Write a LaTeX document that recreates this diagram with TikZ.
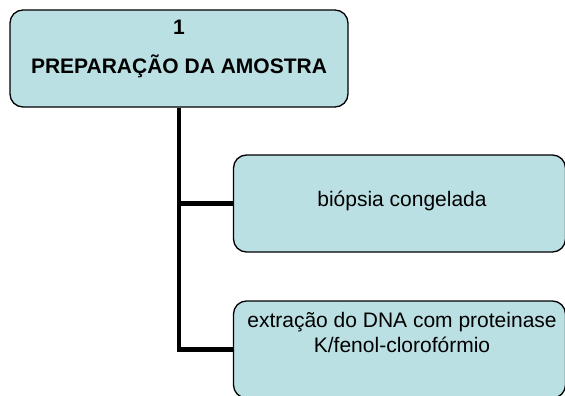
\documentclass[tikz,border=0pt]{standalone}
\usepackage{fontspec}
\setmainfont{Liberation Sans}
\usepackage{tikz}
\usetikzlibrary{positioning}

\begin{document}
\begin{tikzpicture}[x=1pt,y=-1pt,
        caixa/.style={draw=black, line width=1.3pt, fill=caixacor, rounded corners=13pt,
                minimum width=332pt, minimum height=97pt, inner sep=0pt},
        rotulo/.style={anchor=base, inner sep=0pt, font=\fontsize{21}{25}\selectfont, align=center},
        ramo/.style={line width=4.6pt, line join=miter}]
        \definecolor{caixacor}{RGB}{187,224,227}
        \useasboundingbox (0,0) rectangle (565,396);
        \clip (0,0) rectangle (565,396);
        % boxes
        \node[caixa, minimum width=338pt] (prep) at (179,58.5) {};
        \node[caixa] (biopsia) at (399.5,203.5) {};
        \node[caixa] (extracao) at (399.5,349.5) {};
        % texts
        \node[rotulo, font=\bfseries\fontsize{21}{25}\selectfont] (prep num) at (179,35) {1};
        \node[rotulo, font=\bfseries\fontsize{21}{25}\selectfont] (prep nome) at (179,74) {PREPARAÇÃO DA AMOSTRA};
        \node[rotulo] (biopsia txt) at (402,206) {biópsia congelada};
        \node[rotulo] (extracao txt) at (402,352) {extração do DNA com proteinase\\K/fenol-clorofórmio}; % base = last line
        % connectors
        \draw[ramo] (prep.south) |- (extracao.west);
        \draw[ramo] (prep.south |- biopsia.west) -- (biopsia.west);
\end{tikzpicture}
\end{document}
